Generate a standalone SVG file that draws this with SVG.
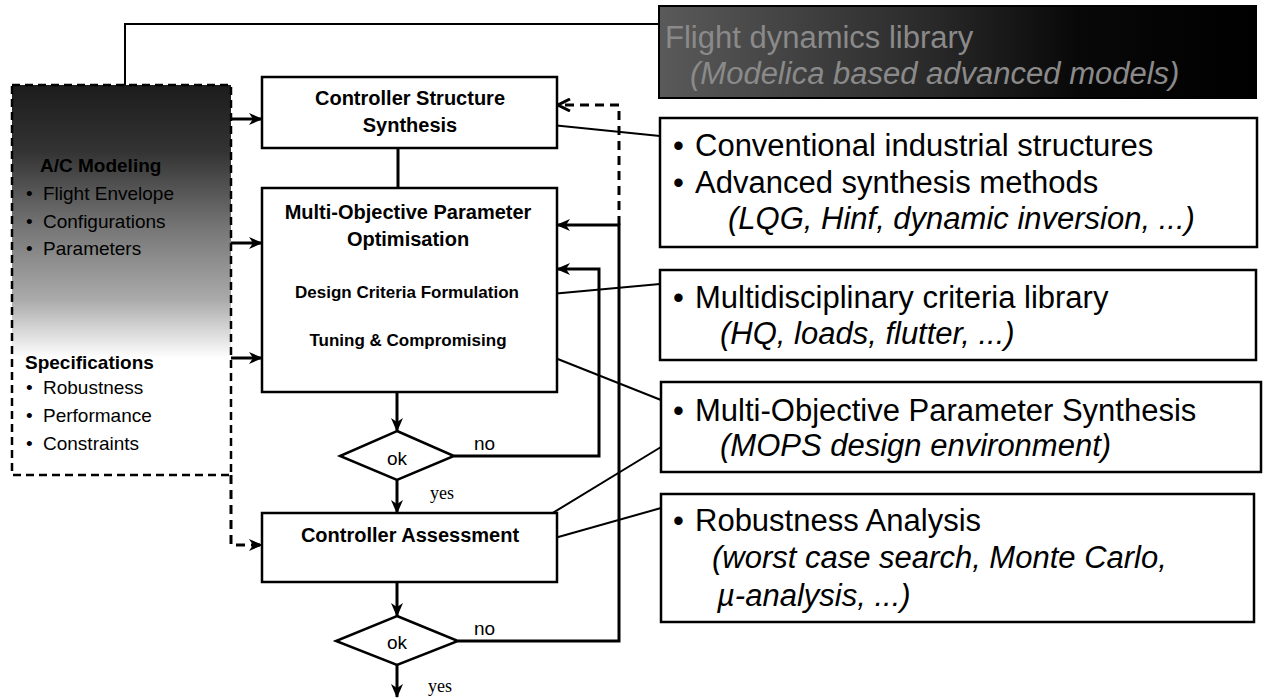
<svg xmlns="http://www.w3.org/2000/svg" width="1267" height="698" viewBox="0 0 1267 698">
<style>
.box{fill:#fff;stroke:#000;stroke-width:2.5}
.lbl{font-family:"Liberation Sans",Arial,sans-serif;font-weight:bold;fill:#000;text-anchor:middle}
.lt{font-family:"Liberation Sans",Arial,sans-serif;font-size:19px;fill:#000}
.rt{font-family:"Liberation Sans",Arial,sans-serif;font-size:31px;fill:#000}
.it{font-style:italic}
.flow{fill:none;stroke:#000;stroke-width:3}
.thin{fill:none;stroke:#000;stroke-width:2}
.dash{fill:none;stroke:#000;stroke-width:3;stroke-dasharray:9,6}
.sm{font-family:"Liberation Sans",Arial,sans-serif;font-size:19px;fill:#000}
.yes{font-family:"Liberation Serif","Times New Roman",serif;font-size:18px;fill:#000}
</style>
<defs>
<marker id="ah" viewBox="0 0 14 12" refX="13" refY="6" markerWidth="14" markerHeight="12" orient="auto" markerUnits="userSpaceOnUse"><path d="M0,0 L14,6 L0,12 L4,6 z" fill="#000"/></marker>
<marker id="ao" viewBox="0 0 14 14" refX="13" refY="7" markerWidth="14" markerHeight="14" orient="auto" markerUnits="userSpaceOnUse"><path d="M1,1 L13,7 L1,13" fill="none" stroke="#000" stroke-width="3"/></marker>
<linearGradient id="lg" x1="0" y1="0" x2="0" y2="1">
<stop offset="0" stop-color="#1c1c1c"/><stop offset="0.17" stop-color="#333"/><stop offset="0.37" stop-color="#777"/><stop offset="0.55" stop-color="#aaa"/><stop offset="0.64" stop-color="#ddd"/><stop offset="0.7" stop-color="#fff"/><stop offset="1" stop-color="#fff"/>
</linearGradient>
<linearGradient id="dg" x1="0" y1="0" x2="1" y2="0">
<stop offset="0" stop-color="#5a5a5a"/><stop offset="0.45" stop-color="#2a2a2a"/><stop offset="0.7" stop-color="#080808"/><stop offset="1" stop-color="#000"/>
</linearGradient>
</defs>

<g id="connectors">
<polyline class="thin" points="140,148 125,118 125,24 659,24"/>
<line class="flow" x1="231" y1="119" x2="262" y2="119" marker-end="url(#ah)"/>
<line class="flow" x1="231" y1="243" x2="262" y2="243" marker-end="url(#ah)"/>
<line class="flow" x1="231" y1="358" x2="262" y2="358" marker-end="url(#ah)"/>
<polyline class="dash" points="231,475 231,545 262,545" marker-end="url(#ah)"/>
<line class="flow" x1="398" y1="148" x2="398" y2="188"/>
<line class="flow" x1="397" y1="392" x2="397" y2="431" marker-end="url(#ah)"/>
<line class="flow" x1="397" y1="480" x2="397" y2="513" marker-end="url(#ah)"/>
<polyline class="flow" points="454,456 599,456 599,269 557,269" marker-end="url(#ah)"/>
<line class="flow" x1="397" y1="582" x2="397" y2="616" marker-end="url(#ah)"/>
<line class="flow" x1="397" y1="665" x2="397" y2="697" marker-end="url(#ah)"/>
<polyline class="flow" points="458,641 619,641 619,225 557,225" marker-end="url(#ah)"/>
<polyline class="dash" points="619,225 619,105 558,105" marker-end="url(#ao)"/>
<line class="thin" x1="532" y1="123" x2="660" y2="136"/>
<line class="thin" x1="540" y1="295" x2="660" y2="284"/>
<line class="thin" x1="530" y1="348" x2="661" y2="400"/>
<line class="thin" x1="528" y1="528" x2="661" y2="447"/>
<line class="thin" x1="537" y1="543" x2="661" y2="508"/>
</g>

<g id="flight-dynamics-library">
<rect x="659" y="6" width="597" height="92" fill="url(#dg)" stroke="#000" stroke-width="2"/>
<text class="rt" x="665" y="48" fill="#8a8a8a" style="fill:#8a8a8a">Flight dynamics library</text>
<text class="rt it" x="690" y="84" style="fill:#8a8a8a">(Modelica based advanced models)</text>
</g>

<g id="modeling-specs">
<rect x="12" y="85" width="219" height="390" fill="url(#lg)" stroke="#000" stroke-width="2.5" stroke-dasharray="8,5"/>
<text class="lt" x="40" y="172" font-weight="bold">A/C Modeling</text>
<text class="lt" x="26" y="200">•</text><text class="lt" x="43" y="200">Flight Envelope</text>
<text class="lt" x="26" y="228">•</text><text class="lt" x="43" y="228">Configurations</text>
<text class="lt" x="26" y="255">•</text><text class="lt" x="43" y="255">Parameters</text>
<text class="lt" x="25" y="369" font-weight="bold" font-size="20">Specifications</text>
<text class="lt" x="26" y="394">•</text><text class="lt" x="43" y="394">Robustness</text>
<text class="lt" x="26" y="422">•</text><text class="lt" x="43" y="422">Performance</text>
<text class="lt" x="26" y="450">•</text><text class="lt" x="43" y="450">Constraints</text>
</g>

<g id="controller-structure-synthesis">
<rect class="box" x="262" y="77" width="295" height="71"/>
<text class="lbl" x="410" y="105" font-size="20">Controller Structure</text>
<text class="lbl" x="410" y="132" font-size="20">Synthesis</text>
</g>

<g id="mopo">
<rect class="box" x="262" y="188" width="295" height="204"/>
<text class="lbl" x="408" y="219" font-size="20">Multi-Objective Parameter</text>
<text class="lbl" x="408" y="246" font-size="20">Optimisation</text>
<text class="lbl" x="407" y="298" font-size="17">Design Criteria Formulation</text>
<text class="lbl" x="408" y="346" font-size="17">Tuning &amp; Compromising</text>
</g>

<g id="decision-1">
<polygon points="397,431 454,456 397,480 340,456" fill="#fff" stroke="#000" stroke-width="2.5"/>
<text class="sm" x="397" y="465" text-anchor="middle">ok</text>
<text class="sm" x="474" y="450">no</text>
<text class="yes" x="430" y="499">yes</text>
</g>

<g id="controller-assessment">
<rect class="box" x="262" y="513" width="295" height="69"/>
<text class="lbl" x="410" y="542" font-size="20">Controller Assessment</text>
</g>

<g id="decision-2">
<polygon points="397,616 458,641 397,665 336,641" fill="#fff" stroke="#000" stroke-width="2.5"/>
<text class="sm" x="397" y="649" text-anchor="middle">ok</text>
<text class="sm" x="474" y="635">no</text>
<text class="yes" x="428" y="692">yes</text>
</g>

<g id="synthesis-methods">
<rect class="box" x="660" y="118" width="597" height="129"/>
<text class="rt" x="673" y="156">•</text><text class="rt" x="695" y="156">Conventional industrial structures</text>
<text class="rt" x="673" y="193">•</text><text class="rt" x="695" y="193">Advanced synthesis methods</text>
<text class="rt it" x="728" y="229">(LQG, Hinf, dynamic inversion, ...)</text>
</g>

<g id="criteria-library">
<rect class="box" x="660" y="270" width="596" height="90"/>
<text class="rt" x="673" y="308">•</text><text class="rt" x="695" y="308">Multidisciplinary criteria library</text>
<text class="rt it" x="720" y="344">(HQ, loads, flutter, ...)</text>
</g>

<g id="mops">
<rect class="box" x="661" y="382" width="600" height="90"/>
<text class="rt" x="673" y="421">•</text><text class="rt" x="695" y="421">Multi-Objective Parameter Synthesis</text>
<text class="rt it" x="720" y="456">(MOPS design environment)</text>
</g>

<g id="robustness-analysis">
<rect class="box" x="661" y="494" width="593" height="128"/>
<text class="rt" x="673" y="531">•</text><text class="rt" x="695" y="531">Robustness Analysis</text>
<text class="rt it" x="712" y="568">(worst case search, Monte Carlo,</text>
<text class="rt it" x="717" y="606">µ-analysis, ...)</text>
</g>
</svg>
